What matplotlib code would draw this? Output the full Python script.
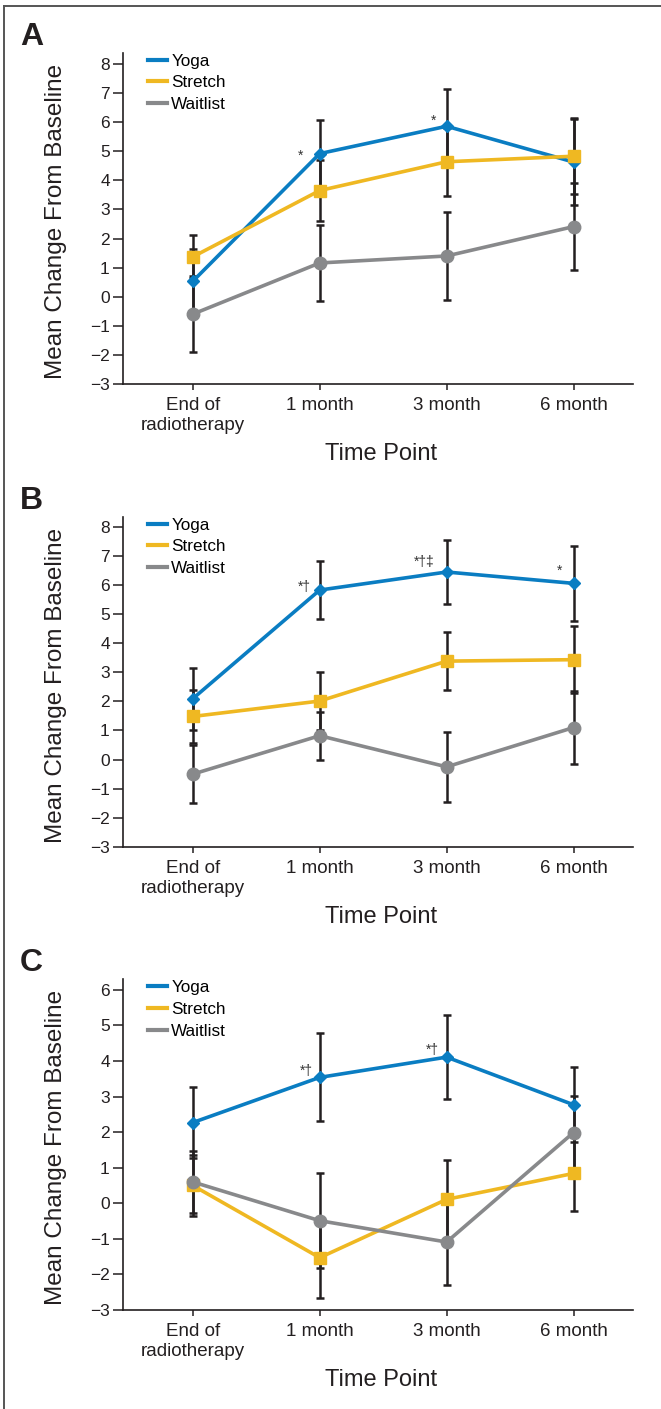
import matplotlib
matplotlib.use("Agg")
import matplotlib.pyplot as plt
from matplotlib.lines import Line2D

plt.rcParams['font.family'] = ['Liberation Sans', 'DejaVu Sans']

# data
timepoints = ["End of\nradiotherapy", "1 month", "3 month", "6 month"]
groups = ["Yoga", "Stretch", "Waitlist"]

yoga_a = [0.53, 4.92, 5.86, 4.63]
yoga_a_err = [1.11, 1.17, 1.29, 1.48]
stretch_a = [1.37, 3.65, 4.64, 4.83]
stretch_a_err = [0.74, 1.06, 1.17, 1.31]
wait_a = [-0.60, 1.16, 1.40, 2.41]
wait_a_err = [1.31, 1.32, 1.52, 1.50]

yoga_b = [2.09, 5.82, 6.44, 6.05]
yoga_b_err = [1.06, 0.99, 1.09, 1.30]
stretch_b = [1.48, 2.01, 3.38, 3.43]
stretch_b_err = [0.91, 0.98, 1.00, 1.15]
wait_b = [-0.50, 0.82, -0.25, 1.10]
wait_b_err = [1.00, 0.83, 1.20, 1.24]

yoga_c = [2.27, 3.54, 4.11, 2.77]
yoga_c_err = [1.01, 1.24, 1.19, 1.05]
stretch_c = [0.50, -1.53, 0.11, 0.84]
stretch_c_err = [0.86, 1.12, 1.10, 1.06]
wait_c = [0.60, -0.49, -1.09, 1.99]
wait_c_err = [0.88, 1.33, 1.20, 1.04]

# significance marks: (time index, label)
marks_a = [(1, "*"), (2, "*")]
marks_b = [(1, "*\u2020"), (2, "*\u2020\u2021"), (3, "*")]
marks_c = [(1, "*\u2020"), (2, "*\u2020")]

colors = {"Yoga": "#0a7dc2", "Stretch": "#efb822", "Waitlist": "#88898b"}
markers = {"Yoga": ("D", 6), "Stretch": ("s", 9), "Waitlist": ("o", 9)}
ebar = "#231f20"

panels = [
    ("A", [yoga_a, stretch_a, wait_a], [yoga_a_err, stretch_a_err, wait_a_err],
     marks_a, (-3, 8.38), range(-3, 9), [0.7275, 0.2349],
     [(0.845, 4.97), (1.894, 6.18)]),
    ("B", [yoga_b, stretch_b, wait_b], [yoga_b_err, stretch_b_err, wait_b_err],
     marks_b, (-3, 8.33), range(-3, 9), [0.3989, 0.2342],
     [(0.876, 6.05), (1.823, 6.91), (2.889, 6.59)]),
    ("C", [yoga_c, stretch_c, wait_c], [yoga_c_err, stretch_c_err, wait_c_err],
     marks_c, (-3, 6.30), range(-3, 7), [0.0703, 0.2347],
     [(0.892, 3.81), (1.886, 4.41)]),
]

fig = plt.figure(figsize=(6.61, 14.09), dpi=100)

# frame lines of the figure
fig.add_artist(Line2D([0.006, 1.0], [0.9955, 0.9955], color="#555555", lw=1.4))
fig.add_artist(Line2D([0.006, 0.006], [0.0, 0.9955], color="#555555", lw=1.4))

x = list(range(len(timepoints)))

for letter, series, errs, marks, ylim, yticks, (bot, h), mark_pos in panels:
    ax = fig.add_axes([0.186, bot, 0.772, h])
    for i, g in enumerate(groups):
        ax.errorbar(x, series[i], yerr=errs[i], fmt="none", ecolor=ebar,
                    elinewidth=1.8, capsize=3, capthick=1.8, zorder=2)
    for i, g in enumerate(groups):
        m, ms = markers[g]
        ax.plot(x, series[i], color=colors[g], lw=2.6, marker=m, ms=ms,
                mec=colors[g], label=g, zorder=3 + i)

    for (idx, txt), (px, py) in zip(marks, mark_pos):
        ax.annotate(txt, xy=(px, py), xytext=(0, -5.5), textcoords="offset points",
                    ha="center", va="baseline", fontsize=10, color="#333333")

    ax.set_xlim(-0.55, 3.47)
    ax.set_ylim(*ylim)
    ax.set_yticks(list(yticks))
    ax.set_xticks(x)
    ax.set_xticklabels(timepoints, fontsize=13.5, color="#231f20", linespacing=1.2)
    ax.tick_params(axis="y", labelsize=12.5, length=7, width=1.1, pad=2.5,
                   colors="#231f20")
    ax.tick_params(axis="x", length=4.5, width=1.1, pad=5, colors="#231f20")
    for s in ["top", "right"]:
        ax.spines[s].set_visible(False)
    for s in ["left", "bottom"]:
        ax.spines[s].set_linewidth(1.2)
        ax.spines[s].set_color("#231f20")

    ax.text(-0.131, 0.49, "Mean Change From Baseline", transform=ax.transAxes,
            rotation=90, ha="center", va="center", fontsize=17.5, color="#231f20")
    ax.text(0.506, -0.212, "Time Point", transform=ax.transAxes,
            ha="center", va="center", fontsize=17, color="#231f20")

    ax.legend(loc="upper left", bbox_to_anchor=(0.049, 0.998), frameon=False,
              fontsize=12.3, handlelength=1.12, handletextpad=0.25,
              labelspacing=0.4, borderpad=0, borderaxespad=0)
    for line in ax.get_legend().get_lines():
        line.set_marker("")
        line.set_linewidth(3)

    top_px = (1 - (bot + h)) * 1409
    fig.text(20 / 661, 1 - (top_px - 8) / 1409, letter, fontsize=23,
             fontweight="bold", ha="left", va="baseline", color="#231f20")

fig.savefig("out.png", dpi=100)
